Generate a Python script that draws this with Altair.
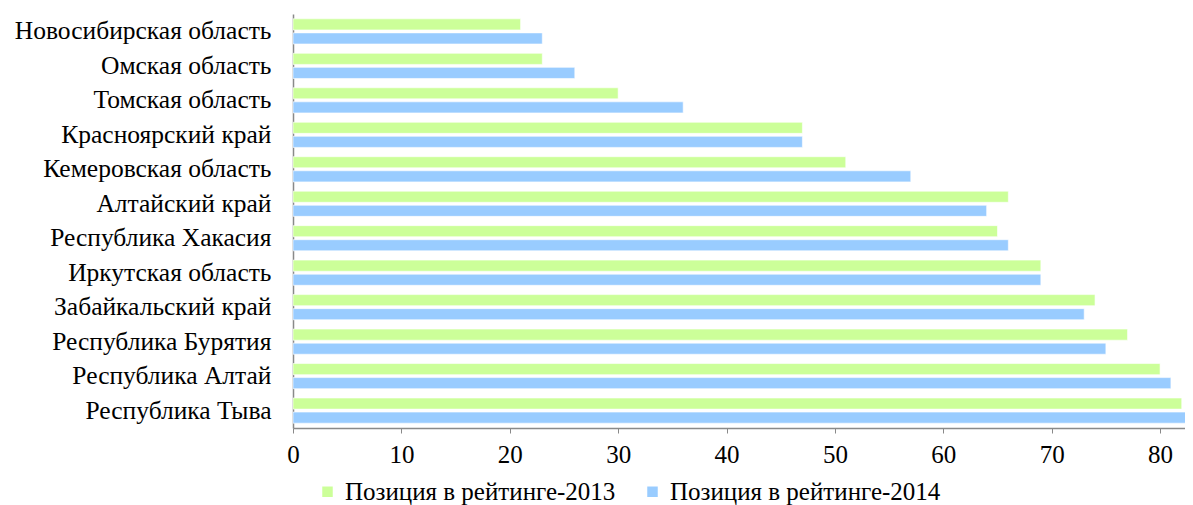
import altair as alt
import pandas as pd

regions = [
    "Новосибирская область",
    "Омская область",
    "Томская область",
    "Красноярский край",
    "Кемеровская область",
    "Алтайский край",
    "Республика Хакасия",
    "Иркутская область",
    "Забайкальский край",
    "Республика Бурятия",
    "Республика Алтай",
    "Республика Тыва",
]
rank_2013 = [21, 23, 30, 47, 51, 66, 65, 69, 74, 77, 80, 82]
rank_2014 = [23, 26, 36, 47, 57, 64, 66, 69, 73, 75, 81, 83]
series = ["Позиция в рейтинге-2013", "Позиция в рейтинге-2014"]
colors = ["#CCFF99", "#99CCFF"]
x_ticks = [0, 10, 20, 30, 40, 50, 60, 70, 80]

rows = []
for r, a, b in zip(regions, rank_2013, rank_2014):
    rows.append({"region": r, "series": series[0], "value": a})
    rows.append({"region": r, "series": series[1], "value": b})
df = pd.DataFrame(rows)

font = "Liberation Serif"

chart = (
    alt.Chart(df)
    .mark_bar(clip=True, stroke="white", strokeWidth=0.6)
    .encode(
        y=alt.Y(
            "region:N",
            sort=regions,
            title=None,
            scale=alt.Scale(paddingInner=0.27, paddingOuter=0.14),
            axis=alt.Axis(
                labelFont=font,
                labelFontSize=25.5,
                labelColor="#000000",
                labelPadding=22,
                labelLimit=300,
                ticks=False,
                domainColor="#898989",
                domainWidth=1.5,
                minExtent=285,
                maxExtent=285,
            ),
        ),
        yOffset=alt.YOffset(
            "series:N",
            sort=series,
            scale=alt.Scale(paddingInner=0.21, paddingOuter=0),
        ),
        x=alt.X(
            "value:Q",
            title=None,
            scale=alt.Scale(domain=[0, 82.3], nice=False, zero=True),
            axis=alt.Axis(
                values=x_ticks,
                grid=False,
                labelFont=font,
                labelFontSize=25,
                labelColor="#000000",
                labelPadding=9,
                tickSize=5,
                tickColor="#898989",
                domainColor="#898989",
                domainWidth=1.5,
                labelFlush=False,
            ),
        ),
        color=alt.Color(
            "series:N",
            sort=series,
            scale=alt.Scale(domain=series, range=colors),
            legend=alt.Legend(
                title=None,
                orient="none",
                direction="horizontal",
                legendX=22,
                legendY=465,
                symbolType="square",
                symbolSize=110,
                symbolStrokeWidth=0,
                labelFont=font,
                labelFontSize=25,
                labelColor="#000000",
                labelLimit=0,
                columnPadding=24,
                labelOffset=5,
            ),
        ),
    )
    .properties(
        width=892,
        height=414,
        padding={"left": 0, "top": 6, "right": 0, "bottom": 0},
    )
    .configure_view(stroke=None)
)

chart.save("out.html", embed_options={"renderer": "svg", "actions": False})
